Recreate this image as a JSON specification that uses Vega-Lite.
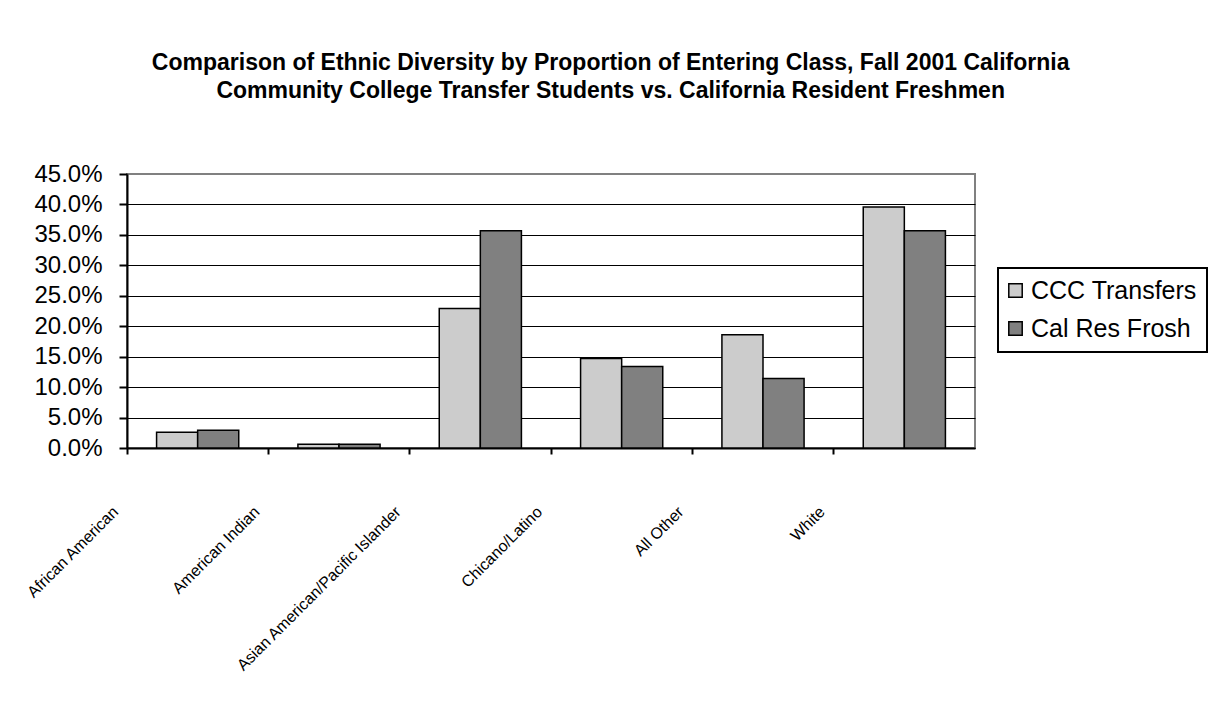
{
  "$schema": "https://vega.github.io/schema/vega-lite/v6.json",
  "width": 848,
  "height": 274,
  "padding": {"left": 23, "top": 52, "right": 0, "bottom": 0},
  "background": "white",
  "title": {
    "text": ["Comparison of Ethnic Diversity by Proportion of Entering Class, Fall 2001 California", "Community College Transfer Students vs. California Resident Freshmen"],
    "font": "Liberation Sans",
    "fontSize": 23,
    "fontWeight": "bold",
    "lineHeight": 28,
    "anchor": "middle",
    "frame": "bounds",
    "offset": 59,
    "dx": -5,
    "color": "black"
  },
  "data": {
    "values": [
      {"group": "African American", "series": "CCC Transfers", "value": 0.026},
      {"group": "African American", "series": "Cal Res Frosh", "value": 0.029},
      {"group": "American Indian", "series": "CCC Transfers", "value": 0.006},
      {"group": "American Indian", "series": "Cal Res Frosh", "value": 0.006},
      {"group": "Asian American/Pacific Islander", "series": "CCC Transfers", "value": 0.229},
      {"group": "Asian American/Pacific Islander", "series": "Cal Res Frosh", "value": 0.357},
      {"group": "Chicano/Latino", "series": "CCC Transfers", "value": 0.147},
      {"group": "Chicano/Latino", "series": "Cal Res Frosh", "value": 0.134},
      {"group": "All Other", "series": "CCC Transfers", "value": 0.186},
      {"group": "All Other", "series": "Cal Res Frosh", "value": 0.114},
      {"group": "White", "series": "CCC Transfers", "value": 0.396},
      {"group": "White", "series": "Cal Res Frosh", "value": 0.357}
    ]
  },
  "mark": {"type": "bar", "stroke": "black", "strokeWidth": 1.5},
  "encoding": {
    "x": {
      "field": "group",
      "type": "nominal",
      "sort": null,
      "title": null,
      "scale": {"paddingInner": 0, "paddingOuter": 0},
      "axis": {
        "bandPosition": 0,
        "domainColor": "black",
        "domainWidth": 2,
        "tickColor": "black",
        "tickWidth": 2,
        "tickSize": 6,
        "labelAngle": -45,
        "labelAlign": "right",
        "labelBaseline": "middle",
        "labelOffset": -82,
        "labelPadding": 55,
        "labelFont": "Liberation Sans",
        "labelFontSize": 16,
        "labelColor": "black",
        "labelLimit": 400,
        "grid": false
      }
    },
    "xOffset": {
      "field": "series",
      "type": "nominal",
      "sort": null,
      "scale": {"paddingInner": 0, "paddingOuter": 0.72}
    },
    "y": {
      "field": "value",
      "type": "quantitative",
      "title": null,
      "scale": {"domain": [0, 0.45], "nice": false},
      "axis": {
        "values": [0, 0.05, 0.1, 0.15, 0.2, 0.25, 0.3, 0.35, 0.4, 0.45],
        "format": ".1%",
        "domainColor": "black",
        "domainWidth": 2,
        "tickColor": "black",
        "tickWidth": 2,
        "tickSize": 8,
        "labelPadding": 17,
        "labelFont": "Liberation Sans",
        "labelFontSize": 24,
        "labelColor": "black",
        "grid": true,
        "gridColor": {"condition": {"test": "datum.value >= 0.449", "value": "#808080"}, "value": "black"},
        "gridWidth": 1.2,
        "gridOpacity": 1
      }
    },
    "fill": {
      "field": "series",
      "type": "nominal",
      "sort": null,
      "scale": {"domain": ["CCC Transfers", "Cal Res Frosh"], "range": ["#cccccc", "#808080"]},
      "legend": {
        "title": null,
        "orient": "none",
        "legendX": 871,
        "legendY": 94,
        "strokeColor": "black",
        "fillColor": "white",
        "padding": 10,
        "symbolType": "square",
        "symbolSize": 180,
        "symbolOffset": -5,
        "symbolStrokeColor": "black",
        "symbolStrokeWidth": 1.5,
        "symbolOpacity": 1,
        "labelFont": "Liberation Sans",
        "labelFontSize": 25,
        "labelColor": "black",
        "labelOffset": 3,
        "rowPadding": 12,
        "labelLimit": 300
      }
    }
  },
  "config": {
    "view": {"stroke": "#808080", "strokeWidth": 2},
    "legend": {"strokeWidth": 2}
  }
}
